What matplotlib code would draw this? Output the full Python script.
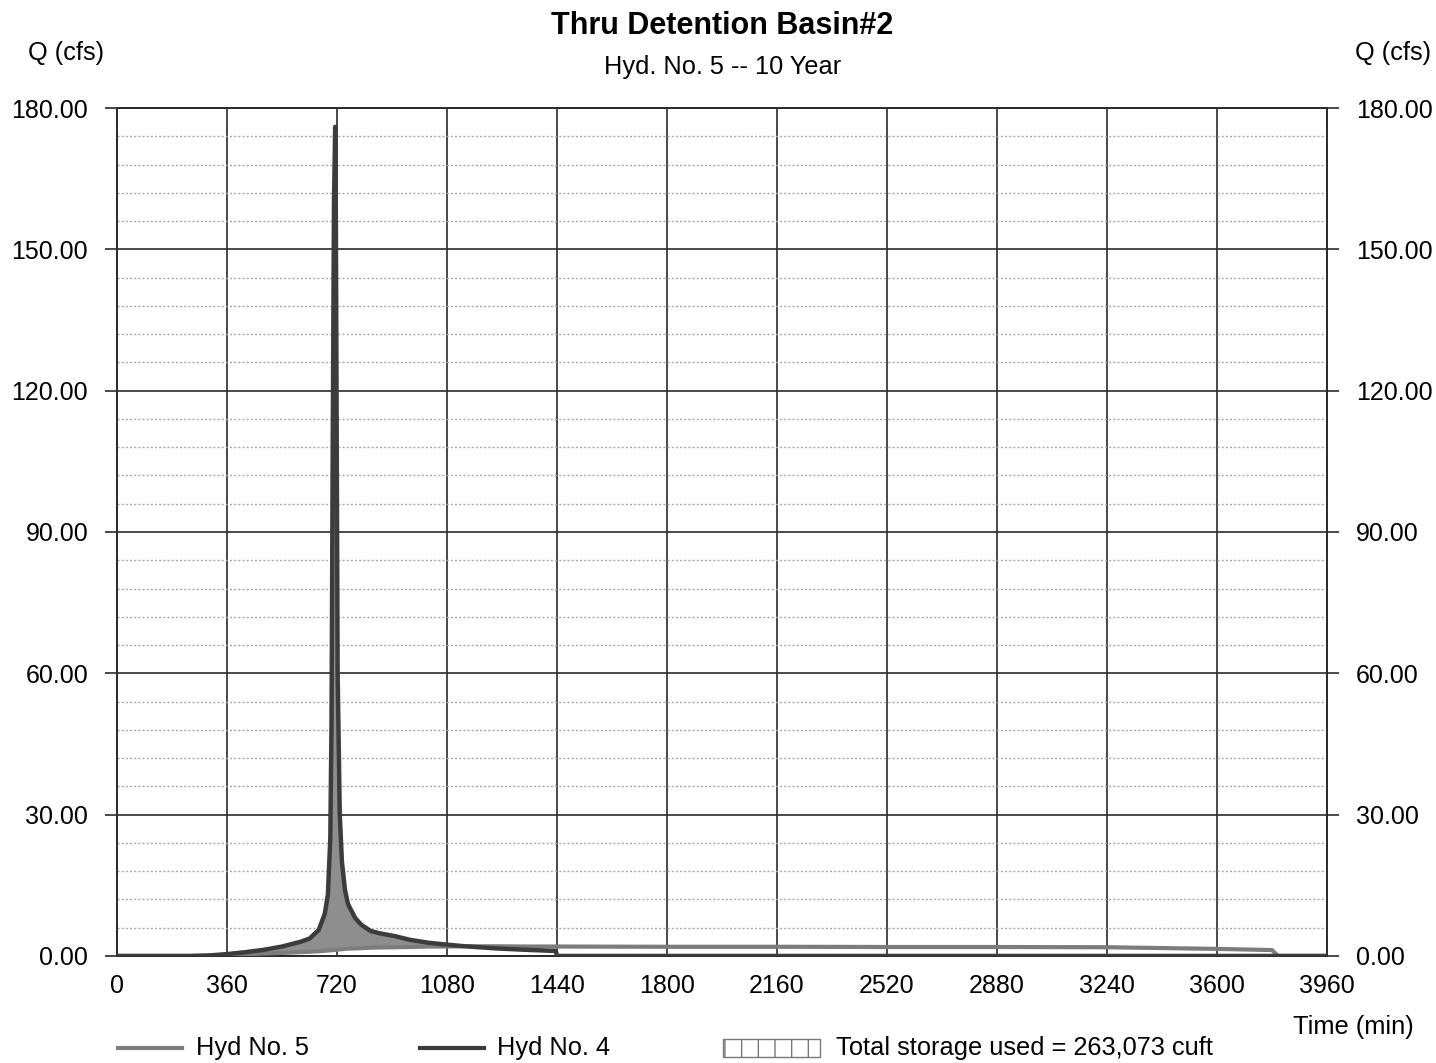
import numpy as np
import matplotlib
matplotlib.use("Agg")
import matplotlib.pyplot as plt
from matplotlib.ticker import MultipleLocator, FixedLocator
from matplotlib.lines import Line2D
from matplotlib.patches import Rectangle

plt.rcParams['font.family'] = ['Liberation Sans', 'DejaVu Sans']

# hydrograph ordinates, time in minutes
time_min = [0, 240, 300, 360, 420, 480, 540, 600, 630, 660, 680, 690, 698, 702, 706,
            710, 714, 716, 719, 722, 729, 736, 746, 756, 780, 800, 830, 860, 910, 960,
            1020, 1080, 1130, 1240, 1340, 1436, 1440, 1800, 2160, 2520, 2880, 3240,
            3600, 3780, 3800, 3960]
# Hyd No. 4 - inflow
q_hyd4 = [0, 0, 0.1, 0.4, 0.8, 1.3, 2.0, 3.0, 3.7, 5.5, 9.0, 13.0, 25, 50, 110,
          160, 176, 160, 110, 60, 30, 20, 14, 11, 8.0, 6.6, 5.3, 4.8, 4.2, 3.4,
          2.8, 2.4, 2.1, 1.6, 1.3, 1.05, 0, 0, 0, 0, 0, 0,
          0, 0, 0, 0]
# Hyd No. 5 - outflow thru basin
q_hyd5 = [0, 0, 0.05, 0.2, 0.35, 0.5, 0.65, 0.8, 0.9, 1.0, 1.1, 1.15, 1.2, 1.2, 1.25,
          1.25, 1.3, 1.3, 1.3, 1.35, 1.4, 1.45, 1.5, 1.55, 1.6, 1.65, 1.75, 1.8, 1.85, 1.9,
          2.0, 2.0, 2.05, 2.05, 2.0, 2.0, 2.0, 1.95, 1.95, 1.9, 1.9, 1.85,
          1.5, 1.25, 0, 0]

x_ticks = list(range(0, 3961, 360))
y_ticks = [0, 30, 60, 90, 120, 150, 180]

t = np.array(time_min, dtype=float)
qi = np.array(q_hyd4, dtype=float)
qo = np.array(q_hyd5, dtype=float)

fig = plt.figure(figsize=(14.36, 10.63), dpi=100)
ax = fig.add_axes([0.0815, 0.1007, 0.8426, 0.7977])

ax.set_xlim(0, 3960)
ax.set_ylim(0, 180)
ax.xaxis.set_major_locator(FixedLocator(x_ticks))
ax.yaxis.set_major_locator(FixedLocator(y_ticks))
ax.yaxis.set_minor_locator(MultipleLocator(6))
ax.set_xticklabels([str(v) for v in x_ticks])
ax.set_yticklabels(['%.2f' % v for v in y_ticks])

ax.grid(which='minor', axis='y', color='#a8a8a8', ls=(0, (1.5, 1.5)), lw=1.0)
ax.grid(which='major', axis='both', color='#2a2a2a', lw=1.2)
ax.set_axisbelow(True)

ax.tick_params(axis='x', which='major', length=0, pad=13, labelsize=18)
ax.tick_params(axis='y', which='major', length=8.8, width=1.2, color='#2a2a2a',
               direction='out', pad=12, labelsize=18, left=True, right=True,
               labelleft=True, labelright=True)
ax.tick_params(axis='y', which='minor', length=0)
for sp in ax.spines.values():
    sp.set_color('#2a2a2a')
    sp.set_linewidth(1.4)

# storage used between inflow and outflow
ax.fill_between(t, qo, qi, where=qi >= qo, interpolate=True,
                facecolor='#8e8e8e', edgecolor='none', zorder=2)
ax.plot(t, qo, color='#7c7c7c', lw=3.0, zorder=3, solid_joinstyle='round')
ax.plot(t, qi, color='#3c3c3c', lw=3.2, zorder=4, solid_joinstyle='round')

fig.text(0.503, 0.976, 'Thru Detention Basin#2', ha='center', va='center',
         fontsize=22, fontweight='bold')
fig.text(0.503, 0.937, 'Hyd. No. 5 -- 10 Year', ha='center', va='center', fontsize=18.3)
fig.text(0.046, 0.950, 'Q (cfs)', ha='center', va='center', fontsize=18.3)
fig.text(0.970, 0.950, 'Q (cfs)', ha='center', va='center', fontsize=18.3)
fig.text(0.9425, 0.034, 'Time (min)', ha='center', va='center', fontsize=18.3)

# legend row along the bottom
ly = 1 - 1048 / 1063
fig.add_artist(Line2D([118 / 1436, 182 / 1436], [ly, ly], color='#7c7c7c', lw=3,
                      transform=fig.transFigure))
fig.text(196 / 1436, ly, 'Hyd No. 5', va='center', fontsize=18.3)
fig.add_artist(Line2D([420 / 1436, 484 / 1436], [ly, ly], color='#3c3c3c', lw=3,
                      transform=fig.transFigure))
fig.text(497 / 1436, ly, 'Hyd No. 4', va='center', fontsize=18.3)
fig.add_artist(Rectangle((723 / 1436, ly - 9 / 1063), 97 / 1436, 18 / 1063,
                         facecolor='white', edgecolor='#777777', hatch='|',
                         lw=1, transform=fig.transFigure))
fig.text(836 / 1436, ly, 'Total storage used = 263,073 cuft', va='center', fontsize=18.3)

fig.savefig('out.png', dpi=100)
